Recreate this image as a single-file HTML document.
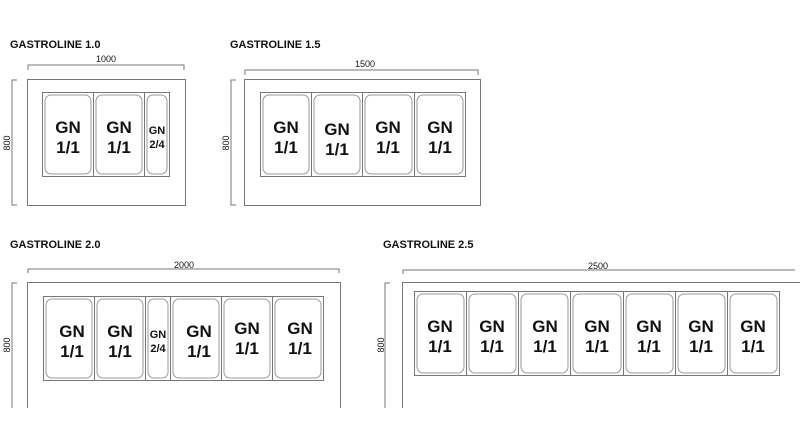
<!DOCTYPE html>
<html><head><meta charset="utf-8"><style>
html,body{margin:0;padding:0;background:#fff;width:800px;height:423px;overflow:hidden}
svg{display:block}
text{font-family:"Liberation Sans",Arial,sans-serif;fill:#111}
.t{font-size:11px;font-weight:bold}
.d{font-size:9px}
.g{font-size:17px;font-weight:bold;text-anchor:middle}
.h{font-size:11px;font-weight:bold;text-anchor:middle}
.l{stroke:#777;stroke-width:1;fill:none}
.p{stroke:#999;stroke-width:1;fill:#fff}
</style></head><body>
<svg width="800" height="423" viewBox="0 0 800 423" xmlns="http://www.w3.org/2000/svg">
<text class="t" x="10" y="48">GASTROLINE 1.0</text>
<text class="t" x="230" y="48">GASTROLINE 1.5</text>
<text class="t" x="10" y="248">GASTROLINE 2.0</text>
<text class="t" x="383" y="248">GASTROLINE 2.5</text>

<g class="l">
<path d="M28 70 V65 H184 V70"/>
<rect x="27.5" y="79.5" width="158" height="126"/>
<path d="M17 80 H12 V205 H17"/>
<rect x="42.5" y="92.5" width="127" height="84"/>
<path d="M93.5 92.5 V176.5 M144.5 92.5 V176.5"/>
</g>
<text class="d" x="106" y="62" text-anchor="middle">1000</text>
<text class="d" transform="translate(10,143) rotate(-90)" text-anchor="middle">800</text>
<g class="p">
<rect x="45" y="95" width="46" height="79" rx="6"/>
<rect x="96" y="95" width="46" height="79" rx="6"/>
<rect x="147" y="95" width="20" height="79" rx="6"/>
</g>
<text class="g" x="68" y="133">GN</text><text class="g" x="68" y="153">1/1</text>
<text class="g" x="119" y="133">GN</text><text class="g" x="119" y="153">1/1</text>
<text class="h" x="157" y="134">GN</text><text class="h" x="157" y="148">2/4</text>

<g class="l">
<path d="M245 75 V70 H478 V75"/>
<rect x="244.5" y="79.5" width="236" height="126"/>
<path d="M236 80 H231 V205 H236"/>
<rect x="260.5" y="92.5" width="205" height="84"/>
<path d="M311.5 92.5 V176.5 M362.5 92.5 V176.5 M414.5 92.5 V176.5"/>
</g>
<text class="d" x="365" y="67" text-anchor="middle">1500</text>
<text class="d" transform="translate(229,143) rotate(-90)" text-anchor="middle">800</text>
<g class="p">
<rect x="263" y="95" width="46" height="79" rx="6"/>
<rect x="314" y="95" width="46" height="79" rx="6"/>
<rect x="365" y="95" width="47" height="79" rx="6"/>
<rect x="417" y="95" width="46" height="79" rx="6"/>
</g>
<text class="g" x="286" y="133">GN</text><text class="g" x="286" y="153">1/1</text>
<text class="g" x="337" y="135">GN</text><text class="g" x="337" y="155">1/1</text>
<text class="g" x="388" y="133">GN</text><text class="g" x="388" y="153">1/1</text>
<text class="g" x="440" y="133">GN</text><text class="g" x="440" y="153">1/1</text>

<g class="l">
<path d="M28 273 V269 H339 V273"/>
<path d="M27.5 408 V282.5 H340.5 V408"/>
<path d="M17 283 H12 V408"/>
<rect x="43.5" y="296.5" width="280" height="84"/>
<path d="M94.5 296.5 V380.5 M145.5 296.5 V380.5 M170.5 296.5 V380.5 M221.5 296.5 V380.5 M272.5 296.5 V380.5"/>
</g>
<text class="d" x="184" y="268" text-anchor="middle">2000</text>
<text class="d" transform="translate(10,345) rotate(-90)" text-anchor="middle">800</text>
<g class="p">
<rect x="46" y="299" width="46" height="79" rx="6"/>
<rect x="97" y="299" width="46" height="79" rx="6"/>
<rect x="148" y="299" width="20" height="79" rx="6"/>
<rect x="173" y="299" width="46" height="79" rx="6"/>
<rect x="224" y="299" width="46" height="79" rx="6"/>
<rect x="275" y="299" width="46" height="79" rx="6"/>
</g>
<text class="g" x="72" y="337">GN</text><text class="g" x="72" y="357">1/1</text>
<text class="g" x="120" y="337">GN</text><text class="g" x="120" y="357">1/1</text>
<text class="h" x="158" y="338">GN</text><text class="h" x="158" y="352">2/4</text>
<text class="g" x="199" y="337">GN</text><text class="g" x="199" y="357">1/1</text>
<text class="g" x="247" y="334">GN</text><text class="g" x="247" y="354">1/1</text>
<text class="g" x="300" y="334">GN</text><text class="g" x="300" y="354">1/1</text>

<g class="l">
<path d="M403 274 V270 H795"/>
<path d="M402.5 408 V282.5 H800"/>
<path d="M390 283 H385 V408"/>
<rect x="414.5" y="291.5" width="365" height="84"/>
<path d="M466.5 291.5 V375.5 M518.5 291.5 V375.5 M570.5 291.5 V375.5 M623.5 291.5 V375.5 M675.5 291.5 V375.5 M727.5 291.5 V375.5"/>
</g>
<text class="d" x="598" y="269" text-anchor="middle">2500</text>
<text class="d" transform="translate(384,345) rotate(-90)" text-anchor="middle">800</text>
<g class="p">
<rect x="417" y="294" width="47" height="79" rx="6"/>
<rect x="469" y="294" width="47" height="79" rx="6"/>
<rect x="521" y="294" width="47" height="79" rx="6"/>
<rect x="573" y="294" width="48" height="79" rx="6"/>
<rect x="626" y="294" width="47" height="79" rx="6"/>
<rect x="678" y="294" width="47" height="79" rx="6"/>
<rect x="730" y="294" width="47" height="79" rx="6"/>
</g>
<text class="g" x="440" y="332">GN</text><text class="g" x="440" y="352">1/1</text>
<text class="g" x="492" y="332">GN</text><text class="g" x="492" y="352">1/1</text>
<text class="g" x="545" y="332">GN</text><text class="g" x="545" y="352">1/1</text>
<text class="g" x="597" y="332">GN</text><text class="g" x="597" y="352">1/1</text>
<text class="g" x="649" y="332">GN</text><text class="g" x="649" y="352">1/1</text>
<text class="g" x="701" y="332">GN</text><text class="g" x="701" y="352">1/1</text>
<text class="g" x="753" y="332">GN</text><text class="g" x="753" y="352">1/1</text>
</svg>
</body></html>
